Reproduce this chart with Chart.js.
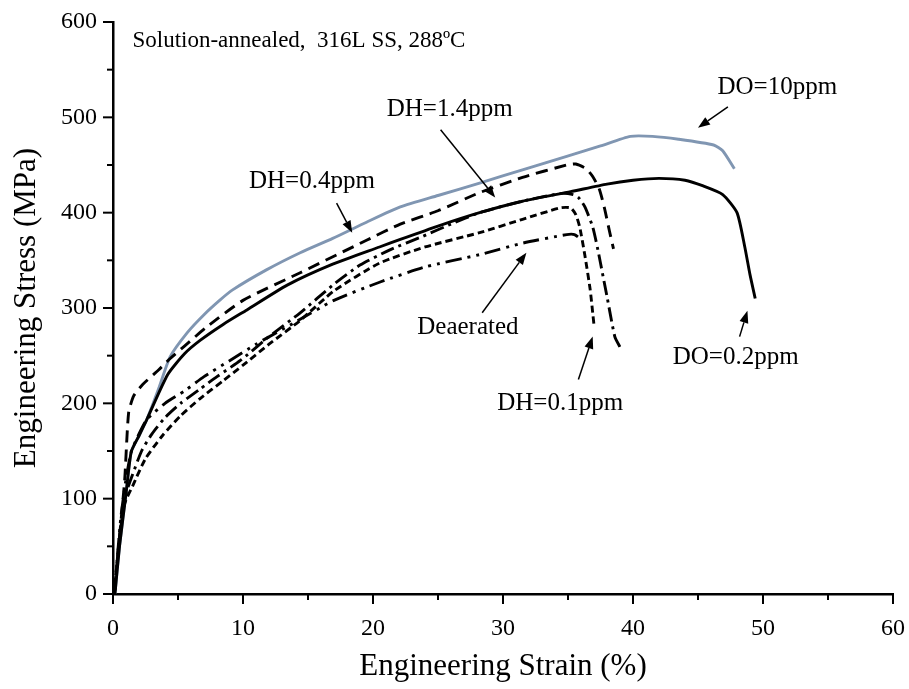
<!DOCTYPE html>
<html><head><meta charset="utf-8">
<script src="https://cdn.jsdelivr.net/npm/chart.js@4"></script>
<style>html,body{margin:0;padding:0;background:#fff}</style>
</head><body>
<canvas id="c" width="909" height="689"></canvas>
<script>
// ---- data (strain %, stress MPa) ----
const xTicks = [0,10,20,30,40,50,60];
const yTicks = [0,100,200,300,400,500,600];

const do10Strain = [0.15,0.5,1.0,1.4,2.0,2.6,3.5,4.4,5.7,7.0,8.2,9.2,11.8,14.4,16.9,19.5,22.1,25.0,28.2,31.5,34.9,37.5,39.8,41.5,43.5,46.2,46.9,47.8];
const do10Stress = [0,50,105,149,166,183,215,249,274,293,308,319,340,358,373,390,406,418,431,445,459,470,480,480,477,471,465,446];

const do02Strain = [0.15,0.5,1.0,1.4,2.0,2.6,4.2,5.5,6.7,8.5,10.3,13.4,16.9,20.5,22.1,25,28.2,31.5,35.2,38,40,42,44,45.4,46.9,48,48.6,49,49.4];
const do02Stress = [0,50,105,149,166,183,230,252,266,283,298,324,346,364,372,386,400,412,422,430,434,436,434,428,419,400,364,335,310];

const dh04Strain = [0.1,0.5,0.9,1.2,1.6,2.3,3.5,4.4,5.5,7.2,10,14.4,19.5,22.1,25,28.2,31.5,34.9,35.6,36.4,36.9,37.4,37.8,38.2,38.5];
const dh04Stress = [0,60,120,190,208,220,235,247,260,280,308,337,371,388,402,421,437,450,451,446,438,425,405,380,362];

const dh14Strain = [0.1,0.6,1.0,1.5,2.2,3,4,5.2,6.7,8,9.8,12,14.4,17,19,21.3,23.8,26,28.2,31.5,34.4,35.4,35.8,36.3,36.9,37.3,37.7,38,38.6,39];
const dh14Stress = [0,70,105,125,150,168,185,200,215,228,245,270,295,325,345,361,375,388,400,412,420,419,416,406,385,361,333,312,270,259];

const dh01Strain = [0.1,0.5,0.9,1.5,2.5,3.8,5.2,6.7,8.5,10,12,14.4,17,20.5,24,28.2,31.5,34.4,35.2,35.6,35.9,36.3,36.7,36.9,37];
const dh01Stress = [0,60,95,113,142,166,187,205,224,240,262,287,318,347,364,379,393,405,405,398,385,355,320,295,282];

const deaStrain = [0.1,0.6,1.0,1.4,2.0,2.6,4,5.5,7,9,11,14,17,20.5,24,28.2,31.5,34.9,35.5,36];
const deaStress = [0,80,120,149,168,183,200,213,228,245,262,285,308,327,343,356,368,377,377,372];

// annotation labels (data units) and arrows
const labelTexts = ['DO=10ppm','DH=1.4ppm','DH=0.4ppm','Deaerated','DH=0.1ppm','DO=0.2ppm'];
const labelX = [51.1,25.9,15.3,27.3,34.4,47.9];
const labelY = [531,508,433,280,200,248];
const arrowFromX = [47.3,25.2,17.2,28.4,35.8,48.2];
const arrowFromY = [511,487,410,295,225,270];
const arrowToX = [45.0,29.4,18.4,31.8,36.9,48.8];
const arrowToY = [489,416,379,358,270,297];
const noteText = 'Solution-annealed,  316L SS, 288\u00BAC';
const noteX = 1.5, noteY = 580;

const FONT = "'Liberation Serif','Times New Roman',serif";
const zip = (xs, ys) => xs.map((x, i) => ({x, y: ys[i]}));
const mk = (data, color, dash) => ({data, borderColor: color, borderWidth: 2.9, borderDash: dash,
  pointRadius: 0, showLine: true, fill: false, tension: 0.2, borderCapStyle: 'butt'});

const datasets = [
  mk(zip(dh01Strain, dh01Stress), '#000', [7,4]),
  mk(zip(deaStrain, deaStress), '#000', [16,6,3,6,3,6]),
  mk(zip(dh14Strain, dh14Stress), '#000', [14,5,3,5]),
  mk(zip(dh04Strain, dh04Stress), '#000', [12,7]),
  mk(zip(do02Strain, do02Stress), '#000', []),
  mk(zip(do10Strain, do10Stress), '#8096b2', []),
];

const decor = {
  id: 'decor',
  afterDraw(chart) {
    const c = chart.ctx, xs = chart.scales.x, ys = chart.scales.y;
    const ca = chart.chartArea;
    c.save();
    c.strokeStyle = '#000'; c.lineWidth = 2;
    for (let v = 0; v <= 60; v += 5) {
      const p = xs.getPixelForValue(v), L = v % 10 === 0 ? 10 : 6;
      c.beginPath(); c.moveTo(p, ca.bottom); c.lineTo(p, ca.bottom + L); c.stroke();
    }
    for (let v = 0; v <= 600; v += 50) {
      const p = ys.getPixelForValue(v), L = v % 100 === 0 ? 10 : 6;
      c.beginPath(); c.moveTo(ca.left, p); c.lineTo(ca.left - L, p); c.stroke();
    }
    c.fillStyle = '#000';
    c.font = '23px ' + FONT;
    c.textBaseline = 'middle'; c.textAlign = 'left';
    c.fillText(noteText, xs.getPixelForValue(noteX), ys.getPixelForValue(noteY));
    c.font = '25px ' + FONT; c.textAlign = 'center';
    labelTexts.forEach((t, i) => c.fillText(t, xs.getPixelForValue(labelX[i]), ys.getPixelForValue(labelY[i])));
    c.lineWidth = 1.5;
    arrowFromX.forEach((fx, i) => {
      const x1 = xs.getPixelForValue(fx), y1 = ys.getPixelForValue(arrowFromY[i]);
      const x2 = xs.getPixelForValue(arrowToX[i]), y2 = ys.getPixelForValue(arrowToY[i]);
      const a = Math.atan2(y2 - y1, x2 - x1), h = 12, w = 4.5;
      const bx = x2 - h * Math.cos(a), by = y2 - h * Math.sin(a);
      c.beginPath(); c.moveTo(x1, y1); c.lineTo(bx, by); c.stroke();
      c.beginPath(); c.moveTo(x2, y2);
      c.lineTo(bx + w * Math.sin(a), by - w * Math.cos(a));
      c.lineTo(bx - w * Math.sin(a), by + w * Math.cos(a));
      c.closePath(); c.fill();
    });
    c.restore();
  }
};

new Chart(document.getElementById('c'), {
  type: 'scatter',
  data: {datasets},
  plugins: [decor],
  options: {
    responsive: false, animation: false, devicePixelRatio: 1,
    layout: {padding: {left: 0, right: 16, top: 22, bottom: 0}},
    plugins: {legend: {display: false}, tooltip: {enabled: false}},
    scales: {
      x: {
        type: 'linear', min: 0, max: 60,
        afterBuildTicks: s => { s.ticks = xTicks.map(v => ({value: v})); },
        ticks: {color: '#000', font: {family: FONT, size: 24}, padding: 20, maxRotation: 0},
        grid: {display: false, drawTicks: false},
        border: {display: true, color: '#000', width: 2.5},
        title: {display: true, text: 'Engineering Strain (%)', color: '#000', font: {family: FONT, size: 31}, padding: {top: 0, bottom: 4}},
        afterFit: s => { s.height = 95; s.paddingLeft = 0; s.paddingRight = 0; }
      },
      y: {
        type: 'linear', min: 0, max: 600,
        afterBuildTicks: s => { s.ticks = yTicks.map(v => ({value: v})); },
        ticks: {color: '#000', font: {family: FONT, size: 24}, padding: 16},
        grid: {display: false, drawTicks: false},
        border: {display: true, color: '#000', width: 2.5},
        title: {display: true, text: 'Engineering Stress (MPa)', color: '#000', font: {family: FONT, size: 31}, padding: {top: 8, bottom: 0}},
        afterFit: s => { s.width = 113; s.paddingTop = 0; s.paddingBottom = 0; }
      }
    }
  }
});
</script>
</body></html>
